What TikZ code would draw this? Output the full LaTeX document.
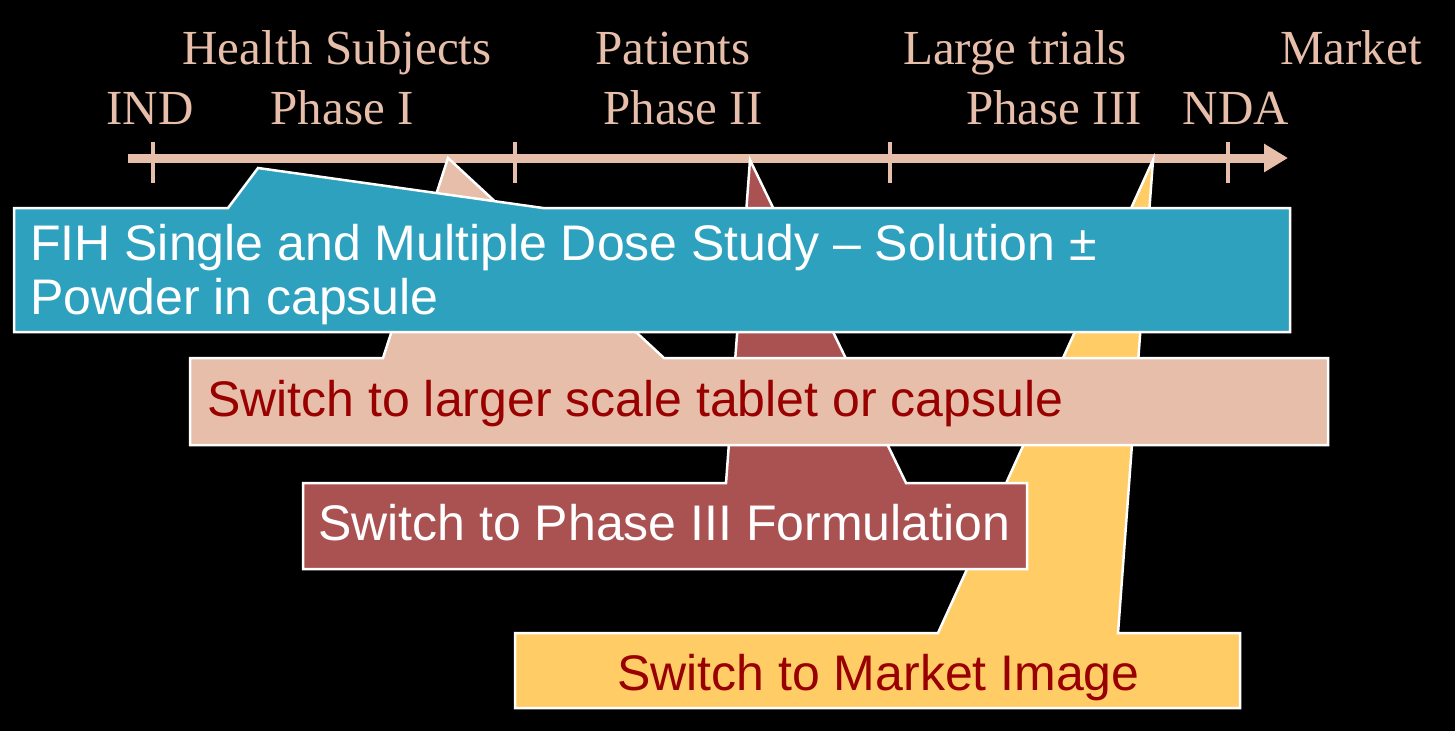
\documentclass[tikz,border=0pt]{standalone}
\usepackage{fontspec}
\setmainfont{Liberation Serif}
\setsansfont{Liberation Sans}
\usetikzlibrary{arrows.meta}
\definecolor{salmon}{RGB}{230,190,170}
\definecolor{calloutblue}{RGB}{46,161,190}
\definecolor{calloutred}{RGB}{170,82,82}
\definecolor{calloutyellow}{RGB}{255,204,102}
\definecolor{textred}{RGB}{153,0,0}
\tikzset{
  phaselabel/.style={
    anchor=base, inner sep=0pt, text=salmon,
    font=\fontsize{49}{49}\selectfont
  },
  phasetick/.style={salmon, line width=4pt},
  callout/.style={draw=white, line width=2.5pt, line join=miter},
  boxtext/.style={
    anchor=base west, inner sep=0pt,
    font=\sffamily\fontsize{50}{54}\selectfont
  }
}

\begin{document}
\begin{tikzpicture}[x=1pt, y=-1pt]
  \fill[black] (0,0) rectangle (1455,731);
  \useasboundingbox (0,0) rectangle (1455,731);

  % ── Timeline ──────────────────────────────────────────────────────
  \coordinate (start) at (128, 158);
  \coordinate (end)   at (1288,158);
  \draw[salmon, line width=9pt,
        -{Triangle[length=24pt, width=27pt]}] (start) -- (end);

  \foreach \x in {153, 515, 890, 1228}
    { \draw[phasetick] (\x,142) -- (\x,183); }

  % upper row, then lower row
  \foreach \x/\lbl/\nm in {337/Health Subjects/subj, 673/Patients/pat,
                           1015/Large trials/large, 1351/Market/market}
    { \node[phaselabel] (\nm) at (\x,64) {\lbl}; }
  \foreach \x/\lbl/\nm in {150/IND/ind, 342/Phase I/ph1, 683/Phase II/ph2,
                           1054/Phase III/ph3, 1236/NDA/nda}
    { \node[phaselabel] (\nm) at (\x,124) {\lbl}; }

  % ── Callouts (bottom one first) ──────────────────────────────────
  \coordinate (yellowTip) at (1153,160);
  \coordinate (redTip)    at (750, 160);
  \coordinate (pinkTip)   at (448, 158);
  \coordinate (blueTip)   at (258, 168);

  % market image
  \filldraw[callout, fill=calloutyellow]
    (515,633) -- (938,633) -- (yellowTip) -- (1118,633) -- (1240,633)
    -- (1240,708) -- (515,708) -- cycle;
  \node[boxtext, text=textred] (market img) at (617,690)
    {Switch to Market Image};

  % phase III formulation
  \filldraw[callout, fill=calloutred]
    (303,483) -- (726,483) -- (redTip) -- (906,483) -- (1027,483)
    -- (1027,569) -- (303,569) -- cycle;
  \node[boxtext, text=white] (ph3 form) at (318,540)
    {Switch to Phase III Formulation};

  % larger scale
  \filldraw[callout, fill=salmon]
    (190,358) -- (383,358) -- (pinkTip) -- (664,358) -- (1328,358)
    -- (1328,445) -- (190,445) -- cycle;
  \node[boxtext, text=textred] (larger) at (207,416)
    {Switch to larger scale tablet or capsule};

  % FIH study
  \filldraw[callout, fill=calloutblue]
    (14,208) -- (228,208) -- (blueTip) -- (543,208) -- (1290,208)
    -- (1290,332) -- (14,332) -- cycle;
  \node[boxtext, text=white] (fih a) at (30,260)
    {FIH Single and Multiple Dose Study – Solution ±};
  \node[boxtext, text=white] (fih b) at (30,314)
    {Powder in capsule};
\end{tikzpicture}
\end{document}
